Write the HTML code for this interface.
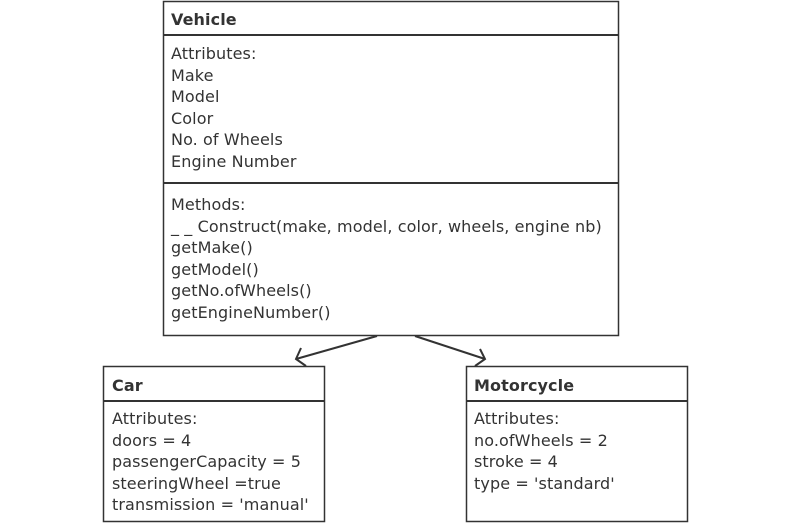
<!DOCTYPE html>
<html><head><style>
body{margin:0;width:792px;height:523px;background:#fff;position:relative;overflow:hidden;font-family:"DejaVu Sans","Liberation Sans",sans-serif;color:#333;}
.t{position:absolute;font-size:16px;line-height:21.5px;white-space:pre;letter-spacing:0.1px}
.b{font-weight:bold}
</style></head><body>
<svg width="792" height="523" style="position:absolute;left:0;top:0">
<g fill="none" stroke="#333" stroke-width="1.5">
<rect x="163.5" y="1.5" width="455" height="334"/>
<line x1="163" y1="35" x2="619" y2="35" stroke-width="2"/>
<line x1="163" y1="183" x2="619" y2="183" stroke-width="2"/>
<rect x="103.5" y="366.5" width="221" height="155"/>
<line x1="103" y1="401" x2="325" y2="401" stroke-width="2"/>
<rect x="466.5" y="366.5" width="221" height="155"/>
<line x1="466" y1="401" x2="688" y2="401" stroke-width="2"/>
<g stroke-width="2">
<line x1="377" y1="336" x2="296" y2="359"/>
<polyline points="301,348 296,359 306,366"/>
<line x1="415" y1="336" x2="485" y2="359"/>
<polyline points="480,349 485,359 475,366"/>
</g>
</g></svg>
<div class="t b" style="left:171px;top:9px">Vehicle</div>
<div class="t" style="left:171px;top:43px">Attributes:
Make
Model
Color
No. of Wheels
Engine Number</div>
<div class="t" style="left:171px;top:194px">Methods:
_ _ Construct(make, model, color, wheels, engine nb)
getMake()
getModel()
getNo.ofWheels()
getEngineNumber()</div>
<div class="t b" style="left:112px;top:375px">Car</div>
<div class="t" style="left:112px;top:408px">Attributes:
doors = 4
passengerCapacity = 5
steeringWheel =true
transmission = 'manual'</div>
<div class="t b" style="left:474px;top:375px">Motorcycle</div>
<div class="t" style="left:474px;top:408px">Attributes:
no.ofWheels = 2
stroke = 4
type = 'standard'</div>
</body></html>
